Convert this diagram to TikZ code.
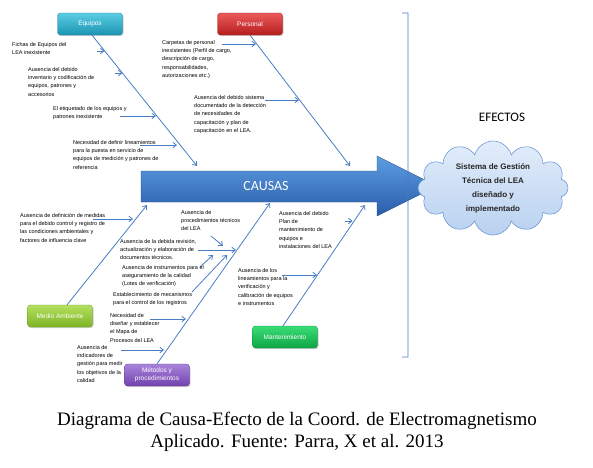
\documentclass[tikz,border=0pt]{standalone}
\usepackage{fontspec}
\setmainfont{Liberation Serif}
\setsansfont{Liberation Sans}
\newfontfamily\calibri{Carlito}
\usetikzlibrary{arrows.meta,shapes.symbols,shadows}
\definecolor{bonecol}{HTML}{4A7CC4}
\definecolor{eqtop}{HTML}{5BCDE3}\definecolor{eqbot}{HTML}{1B94B2}
\definecolor{petop}{HTML}{EC5A5A}\definecolor{pebot}{HTML}{B51D1D}
\definecolor{matop}{HTML}{B4E060}\definecolor{mabot}{HTML}{7DB424}
\definecolor{mttop}{HTML}{A984DA}\definecolor{mtbot}{HTML}{7142AE}
\definecolor{mntop}{HTML}{3ADC78}\definecolor{mnbot}{HTML}{0EA545}
\definecolor{arrtop}{HTML}{5C9DE2}\definecolor{arrbot}{HTML}{2A5DAA}
\definecolor{cloudtop}{HTML}{E2EDFA}\definecolor{cloudbot}{HTML}{B9D1F0}
\definecolor{cloudline}{HTML}{5D8DD2}
\begin{document}
\begin{tikzpicture}[x=1pt,y=-1pt,>={Straight Barb[length=3.5pt,width=5.5pt]},
 cat/.style 2 args={rounded corners=3pt,top color=#1,bottom color=#2,draw=#2!85!black,
 line width=0.3pt,minimum width=65pt,minimum height=22pt,inner sep=1pt,align=center,
 text=white,font=\sffamily\fontsize{6.5}{7.5}\selectfont,
 drop shadow={opacity=0.35,shadow xshift=1pt,shadow yshift=-1.2pt}},
 cause/.style={anchor=north west,inner sep=0pt,align=left,font=\sffamily\fontsize{5.5}{8.3}\selectfont},
 bone/.style={draw=bonecol,line width=0.8pt,->},
 sub/.style={draw=bonecol,line width=0.8pt,->}]
\useasboundingbox (0,0) rectangle (593,467);
% categorias
\node[cat={eqtop}{eqbot}] (equipos) at (90,24) {Equipos};
\node[cat={petop}{pebot}] (personal) at (250,24) {Personal};
\node[cat={matop}{mabot}] (medio) at (60,316) {Medio Ambiente};
\node[cat={mttop}{mtbot}] (metodos) at (157,375) {Métodos y\\procedimientos};
\node[cat={mntop}{mnbot}] (mant) at (285,337) {Mantenimiento};
% flecha principal
\path[top color=arrtop,bottom color=arrbot,draw=arrbot!80!black,line width=0.3pt]
 (141,171) -- (377,171) -- (377,156) -- (437,186) -- (377,216) -- (377,202) -- (141,202) -- cycle;
\node[font=\calibri\fontsize{14}{14}\selectfont,text=white] (causas) at (266,186) {CAUSAS};
% espinas
\coordinate (eqend) at (197,166);
\coordinate (peend) at (350,166);
\coordinate (maend) at (147,205);
\coordinate (mtend) at (270,203);
\coordinate (mnend) at (365,205);
\draw[bone] ([xshift=2pt]equipos.south) -- (eqend);
\draw[bone] (personal.south) -- (peend);
\draw[bone] ([xshift=7pt]medio.north) -- (maend);
\draw[bone] (metodos.north) -- (mtend);
\draw[bone] ([xshift=-2pt]mant.north) -- (mnend);
\foreach \n/\xa/\ya/\xb/\yb in {ea/97/51/104.5/51,eb/115/73/122.5/73,ec/120/116/156/116,
 ed/140/145/177/145,pa/222/44/256/44,pb/265/100/299/100,ma/93/219/133/219,
 mta/211/236/223/246,mtb/198/250/236/250,mtc/200/267/213/255,mtd/192/292/227/255,
 mte/150/319/186/319,mtf/121/350/164/350,mna/345/221/352.5/221,mnb/282/275/317/275}{
 \coordinate (\n0) at (\xa,\ya); \coordinate (\n1) at (\xb,\yb);
 \draw[sub] (\n0) -- (\n1);}
% causas
\node[cause] (tea) at (12,42) {Fichas de Equipos del\\LEA inexistente};
\node[cause] (teb) at (28,67) {Ausencia del debido\\inventario y codificación de\\equipos, patrones y\\accesorios};
\node[cause] (tec) at (53,106) {El etiquetado de los equipos y\\patrones inexistente};
\node[cause] (ted) at (73,140) {Necesidad de definir lineamientos\\para la puesta en servicio de\\equipos de medición y patrones de\\referencia};
\node[cause] (tpa) at (162,40) {Carpetas de personal\\inexistentes (Perfil de cargo,\\descripción de cargo,\\responsabilidades,\\autorizaciones etc.)};
\node[cause] (tpb) at (194,95) {Ausencia del debido sistema\\documentado de la detección\\de necesidades de\\capacitación y plan de\\capacitación en el LEA.};
\node[cause] (tma) at (20,213) {Ausencia de definición de medidas\\para el debido control y registro de\\las condiciones ambientales y\\factores de influencia clave};
\node[cause] (tmta) at (181,210) {Ausencia de\\procedimientos técnicos\\del LEA};
\node[cause] (tmtb) at (120,239) {Ausencia de la debida revisión,\\actualización y elaboración de\\documentos técnicos.};
\node[cause] (tmtc) at (122,265) {Ausencia de instrumentos para el\\aseguramiento de la calidad\\(Lotes de verificación)};
\node[cause] (tmtd) at (113,292) {Establecimiento de mecanismos\\para el control de los registros};
\node[cause] (tmte) at (110,313) {Necesidad de\\diseñar y establecer\\el Mapa de\\Procesos del LEA};
\node[cause] (tmtf) at (77,345) {Ausencia de\\indicadores de\\gestión para medir\\los objetivos de la\\calidad};
\node[cause] (tmna) at (279,211) {Ausencia del debido\\Plan de\\mantenimiento de\\equipos e\\instalaciones del LEA};
\node[cause] (tmnb) at (238,268) {Ausencia de los\\lineamientos para la\\verificación y\\calibración de equipos\\e instrumentos};
% efectos
\draw[bonecol,line width=0.8pt] (402,13) -- (408,13) -- (408,184) -- (415,186) -- (408,188) -- (408,357) -- (402,357);
\node[font=\calibri\fontsize{13}{13}\selectfont] (efectos) at (502,117) {EFECTOS};
\node[cloud,cloud puffs=12,aspect=1.9,minimum width=150pt,minimum height=80pt,inner sep=0pt,
 draw=cloudline,line width=0.5pt,top color=cloudtop,bottom color=cloudbot,align=center,
 text=black!85,font=\sffamily\bfseries\fontsize{8}{14}\selectfont] (sistema) at (493,188)
 {Sistema de Gestión\\Técnica del LEA\\diseñado y\\implementado};
\node[align=center,font=\fontsize{19}{22}\selectfont] (caption) at (297,432)
 {Diagrama de Causa-Efecto de la Coord. de Electromagnetismo\\Aplicado. Fuente: Parra, X et al. 2013};
\end{tikzpicture}
\end{document}
